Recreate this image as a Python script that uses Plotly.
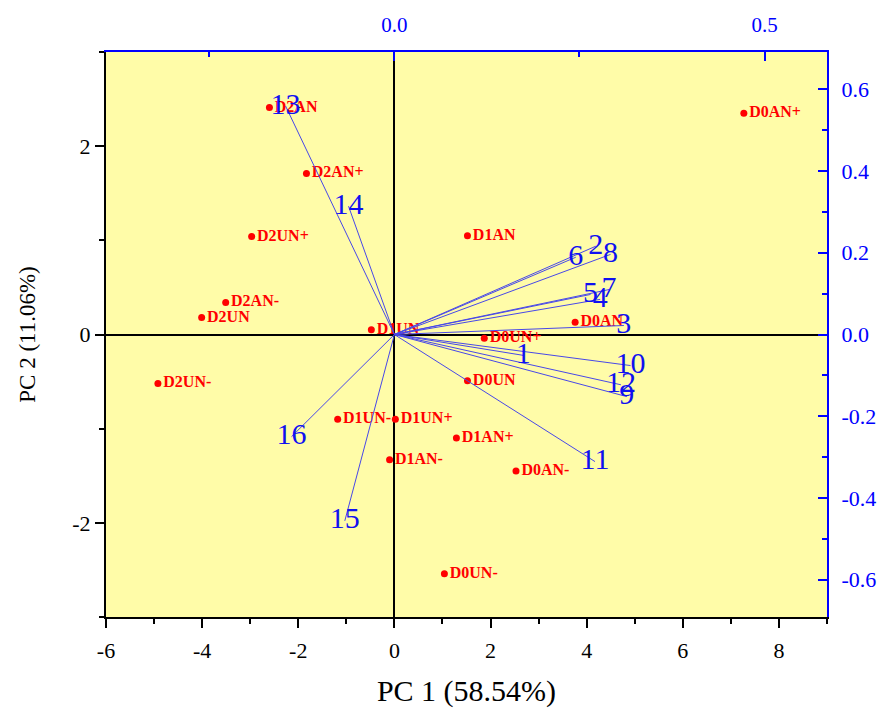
import plotly.graph_objects as go

# Sample scores on PC1 / PC2
samples = ["D0AN+", "D2AN", "D2AN+", "D2UN+", "D1AN", "D2AN-", "D2UN", "D1UN",
           "D0AN", "D0UN+", "D2UN-", "D0UN", "D1UN-", "D1UN+", "D1AN+", "D1AN-",
           "D0AN-", "D0UN-"]
pc1_scores = [7.27, -2.60, -1.83, -2.97, 1.52, -3.51, -4.01, -0.48,
              3.76, 1.87, -4.92, 1.52, -1.18, 0.02, 1.29, -0.10,
              2.53, 1.04]
pc2_scores = [2.35, 2.41, 1.71, 1.04, 1.05, 0.34, 0.18, 0.05,
              0.13, -0.04, -0.52, -0.49, -0.90, -0.90, -1.10, -1.33,
              -1.45, -2.54]

# Variable loadings on PC1 / PC2
variables = [str(i) for i in range(1, 17)]
pc1_loadings = [0.174, 0.272, 0.310, 0.278, 0.265, 0.245, 0.290, 0.292,
                0.314, 0.319, 0.271, 0.306, -0.147, -0.062, -0.067, -0.139]
pc2_loadings = [-0.051, 0.216, 0.022, 0.086, 0.098, 0.189, 0.110, 0.196,
                -0.152, -0.076, -0.311, -0.123, 0.559, 0.314, -0.456, -0.250]

# Axis ranges and tick labels
score_x_range = [-6, 9]
score_y_range = [-3, 3]
x_ticks = [-6, -4, -2, 0, 2, 4, 6, 8]
y_ticks = [-2, 0, 2]
loading_x_ticks = [0.0, 0.5]
loading_y_ticks = [-0.6, -0.4, -0.2, 0.0, 0.2, 0.4, 0.6]
x_title = "PC 1 (58.54%)"
y_title = "PC 2 (11.06%)"

# Scale between the score axes and the loading axes
sx = 15.4
sy = 4.34
loading_x_range = [score_x_range[0] / sx, score_x_range[1] / sx]
loading_y_range = [score_y_range[0] / sy, score_y_range[1] / sy]

FONT = "Liberation Serif"
BLUE = "#1010f0"
LINE_BLUE = "#4848e8"

fig = go.Figure()

fig.add_trace(go.Scatter(
    x=pc1_scores, y=pc2_scores, mode="markers+text",
    text=samples, textposition="middle right",
    marker=dict(color="#ff0000", size=7),
    textfont=dict(family=FONT, size=16, color="#ff0000", weight="bold"),
    cliponaxis=False, showlegend=False, hoverinfo="skip",
))

for name, lx, ly in zip(variables, pc1_loadings, pc2_loadings):
    fig.add_trace(go.Scatter(
        x=[0, lx], y=[0, ly], mode="lines", xaxis="x2", yaxis="y2",
        line=dict(color=LINE_BLUE, width=1), showlegend=False, hoverinfo="skip",
    ))

fig.add_trace(go.Scatter(
    x=pc1_loadings, y=pc2_loadings, mode="text", xaxis="x2", yaxis="y2",
    text=variables, textposition="middle center",
    textfont=dict(family=FONT, size=30, color=BLUE),
    cliponaxis=False, showlegend=False, hoverinfo="skip",
))


def fmt(v, nd=0):
    return f"{v:.{nd}f}".replace("\u2212", "-")


fig.update_layout(
    width=877, height=709,
    margin=dict(l=106, r=50, t=52, b=92),
    paper_bgcolor="white",
    plot_bgcolor="#fffca8",
    font=dict(family=FONT, color="black"),
    xaxis=dict(
        range=score_x_range, showgrid=False, automargin=False,
        zeroline=True, zerolinecolor="black", zerolinewidth=2,
        showline=True, linecolor="black", linewidth=2,
        ticks="outside", ticklen=9, tickwidth=2, tickcolor="black",
        tickvals=x_ticks, ticktext=[fmt(v) for v in x_ticks],
        minor=dict(tickvals=[-5, -3, -1, 1, 3, 5, 7, 9], ticks="outside",
                   ticklen=5, tickwidth=2, tickcolor="black"),
        tickfont=dict(size=22, color="black"),
        ticklabelstandoff=4,
        title=dict(text=x_title, font=dict(size=30, color="black"), standoff=18),
    ),
    yaxis=dict(
        range=score_y_range, showgrid=False, automargin=False,
        zeroline=True, zerolinecolor="black", zerolinewidth=2,
        showline=True, linecolor="black", linewidth=2,
        ticks="outside", ticklen=9, tickwidth=2, tickcolor="black",
        tickvals=y_ticks, ticktext=[fmt(v) for v in y_ticks],
        minor=dict(tickvals=[-3, -1, 1, 3], ticks="outside",
                   ticklen=5, tickwidth=2, tickcolor="black"),
        tickfont=dict(size=22, color="black"),
        title=dict(text=y_title, font=dict(size=23, color="black"), standoff=30),
    ),
    xaxis2=dict(
        overlaying="x", side="top", anchor="y", range=loading_x_range,
        showgrid=False, zeroline=False, automargin=False,
        showline=True, linecolor="#0000ff", linewidth=2,
        ticks="inside", ticklen=9, tickwidth=2, tickcolor="#0000ff",
        tickvals=loading_x_ticks, ticktext=[fmt(v, 1) for v in loading_x_ticks],
        minor=dict(tickvals=[-0.25, 0.25], ticks="inside",
                   ticklen=5, tickwidth=2, tickcolor="#0000ff"),
        tickfont=dict(size=21, color="#0000ff"),
        ticklabelstandoff=10,
    ),
    yaxis2=dict(
        overlaying="y", side="right", anchor="x", range=loading_y_range,
        showgrid=False, zeroline=False, automargin=False,
        showline=True, linecolor="#0000ff", linewidth=2,
        ticks="inside", ticklen=9, tickwidth=2, tickcolor="#0000ff",
        tickvals=loading_y_ticks, ticktext=[fmt(v, 1) for v in loading_y_ticks],
        minor=dict(tickvals=[-0.5, -0.3, -0.1, 0.1, 0.3, 0.5], ticks="inside",
                   ticklen=5, tickwidth=2, tickcolor="#0000ff"),
        tickfont=dict(size=22, color="#0000ff"),
        ticklabelstandoff=8,
    ),
)

fig.write_html("out.html")
